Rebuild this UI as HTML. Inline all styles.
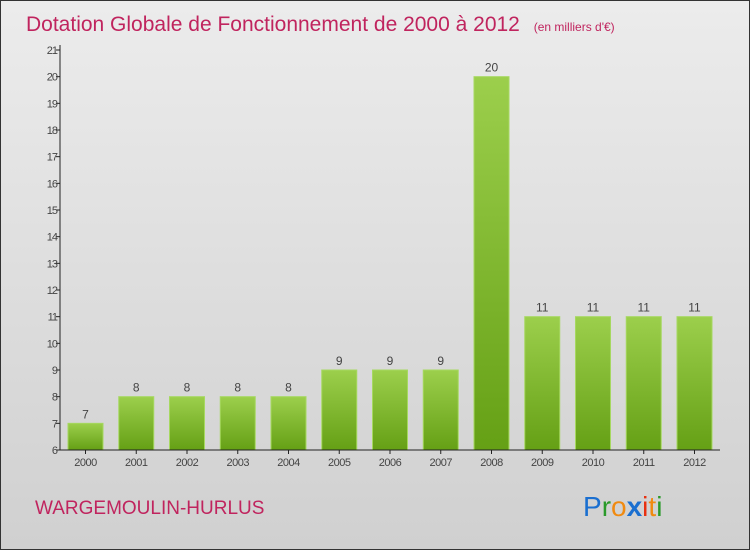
<!DOCTYPE html>
<html><head><meta charset="utf-8"><style>
html,body{margin:0;padding:0}
body{width:750px;height:550px;overflow:hidden;font-family:"Liberation Sans",sans-serif}
</style></head><body>
<svg id="c" width="750" height="550" xmlns="http://www.w3.org/2000/svg">
<defs>
<linearGradient id="bg" x1="0" y1="0" x2="0" y2="1"><stop offset="0" stop-color="#ececec"/><stop offset="1" stop-color="#d0d0d0"/></linearGradient>
<linearGradient id="bar" x1="0" y1="0" x2="0" y2="1"><stop offset="0" stop-color="#9ccf4c"/><stop offset="1" stop-color="#65a015"/></linearGradient>
</defs>
<rect x="0.5" y="0.5" width="749" height="549" fill="url(#bg)" stroke="#333"/>
<text x="26" y="31" font-size="21" fill="#c0245e">Dotation Globale de Fonctionnement de 2000 à 2012 <tspan font-size="12" dx="8">(en milliers d'€)</tspan></text>
<text x="35" y="514" font-size="19" fill="#c0245e">WARGEMOULIN-HURLUS</text>
<g font-size="28" font-family="'Liberation Sans',sans-serif">
<text x="583" y="516"><tspan fill="#1a6fd0">P</tspan><tspan fill="#2a9a2a">r</tspan><tspan fill="#f08a10">o</tspan><tspan fill="#1a6fd0" font-weight="bold">x</tspan><tspan fill="#e83010">i</tspan><tspan fill="#f08a10">t</tspan><tspan fill="#2a9a2a">i</tspan></text>
</g>
<g id="plot"></g>
</svg>
<script>
const categories=["2000","2001","2002","2003","2004","2005","2006","2007","2008","2009","2010","2011","2012"];
const values=[7,8,8,8,8,9,9,9,20,11,11,11,11];
const yTicks=[6,7,8,9,10,11,12,13,14,15,16,17,18,19,20,21];
const NS="http://www.w3.org/2000/svg";
const g=document.getElementById('plot');
const y0=450,y1=50,vmin=6,vmax=21,x0=60,step=50.75,first=85.5,bw=35;
const Y=v=>y0-(v-vmin)/(vmax-vmin)*(y0-y1);
const X=i=>first+i*step;
function mk(t,a){const e=document.createElementNS(NS,t);for(const k in a)e.setAttribute(k,a[k]);g.appendChild(e);return e;}
yTicks.forEach(v=>{
 const l=mk('line',{x1:x0-4,x2:x0,y1:Y(v),y2:Y(v),stroke:'#222'});
 
 
 const t=mk('text',{x:x0-3,y:Y(v)+4,'text-anchor':'end','font-size':11,fill:'#444','letter-spacing':'-1'});
 t.textContent=v;
 
 
});
values.forEach((v,i)=>{
 const r=mk('rect',{x:X(i)-bw/2,y:Y(v),width:bw,height:y0-Y(v),fill:'url(#bar)',stroke:'#a6d860','stroke-width':1});
 
 
 const t=mk('text',{x:X(i),y:Y(v)-5,'text-anchor':'middle','font-size':12,fill:'#444'});
 t.textContent=v;
 
 
 const tk=mk('line',{x1:X(i),x2:X(i),y1:y0,y2:y0+4,stroke:'#222'});
 
 
 const c=mk('text',{x:X(i),y:y0+16,'text-anchor':'middle','font-size':11,fill:'#444','letter-spacing':'-0.5'});
 c.textContent=categories[i];
 
 
});
const ya=mk('line',{x1:x0,x2:x0,y1:y1-5,y2:y0,stroke:'#222'});


const xa=mk('line',{x1:x0,x2:720,y1:y0,y2:y0,stroke:'#222'});


</script>
</body></html>
